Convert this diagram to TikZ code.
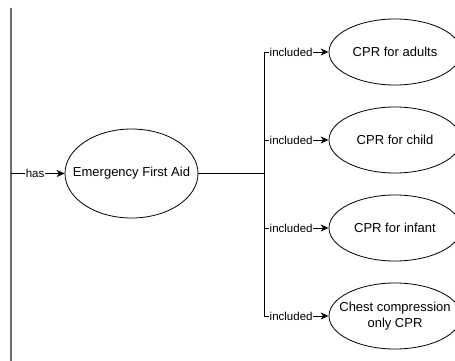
\documentclass[tikz,border=0pt]{standalone}
\usepackage{fontspec}
\setmainfont{Liberation Sans}
\usetikzlibrary{shapes.geometric,arrows.meta}

\begin{document}
\begin{tikzpicture}[x=1pt, y=-1pt, line width=0.8pt,
  font=\fontsize{13}{16}\selectfont,
  usecase/.style={draw, ellipse, inner xsep=-18pt, inner ysep=0pt, align=center},
  rel/.style={-{Stealth[length=8pt, width=7pt, inset=2.5pt]}},
  rellabel/.style={fill=white, inner sep=0.5pt, font=\fontsize{11.5}{13}\selectfont}]
  \clip (0,0) rectangle (455,361);

  \coordinate (top) at (11,8);
  \coordinate (bottom) at (11,361);
  \coordinate (start) at (11,173.5);
  \coordinate (fork) at (264,173.5);
  \draw[line width=1.5pt, gray!85!black] (top) -- (bottom);

  \node[usecase, minimum width=133pt, minimum height=89pt] (efa) at (131.5,173.5)
  {Emergency First Aid};

  \node[usecase, minimum width=132pt, minimum height=66pt] (adults) at (395,52)  {CPR for adults};
  \node[usecase, minimum width=132pt, minimum height=66pt] (child)  at (395,140) {CPR for child};
  \node[usecase, minimum width=132pt, minimum height=66pt] (infant) at (395,228) {CPR for infant};
  \node[usecase, minimum width=132pt, minimum height=66pt] (chest)  at (395,316)
  {Chest compression\\only CPR};

  \draw[rel] (start) -- node[rellabel, pos=0.45] {has} (efa.west);
  \draw (efa.east) -- (fork);
  \foreach \uc in {adults, child, infant, chest}
    \draw[rel] (fork) |- node[rellabel, pos=0.71] {included} (\uc.west);
\end{tikzpicture}
\end{document}
